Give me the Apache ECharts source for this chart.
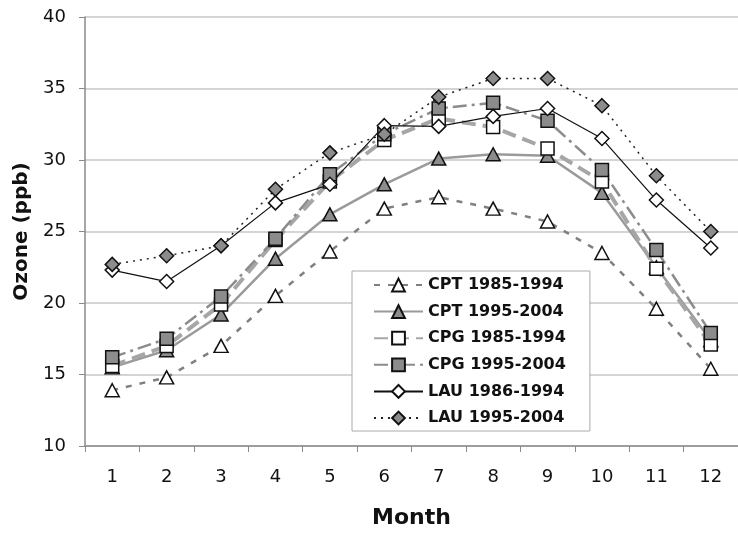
<!DOCTYPE html>
<html>
<head>
<meta charset="utf-8">
<script src="https://cdn.jsdelivr.net/npm/echarts@6/dist/echarts.min.js"></script>
<style>
  html, body { margin: 0; padding: 0; background: #fff; }
  #chart { width: 738px; height: 534px; }
</style>
</head>
<body>
<div id="chart"></div>
<script>
// Monthly mean ozone (ppb) by site and period
const months = ['1', '2', '3', '4', '5', '6', '7', '8', '9', '10', '11', '12'];

const cpt8594 = [13.9, 14.8, 17.0, 20.5, 23.6, 26.6, 27.4, 26.6, 25.7, 23.5, 19.6, 15.4];
const cpt9504 = [15.5, 16.7, 19.2, 23.1, 26.2, 28.3, 30.1, 30.4, 30.3, 27.7, 22.5, 17.4];
const cpg8594 = [15.6, 17.0, 19.9, 24.4, 28.5, 31.4, 32.9, 32.3, 30.8, 28.5, 22.4, 17.1];
const cpg9504 = [16.2, 17.5, 20.45, 24.5, 29.0, 31.8, 33.6, 34.0, 32.75, 29.3, 23.7, 17.9];
const lau8694 = [22.3, 21.5, 24.0, 27.0, 28.3, 32.4, 32.35, 33.05, 33.6, 31.5, 27.2, 23.85];
const lau9504 = [22.7, 23.3, 24.0, 27.95, 30.5, 31.8, 34.4, 35.7, 35.7, 33.8, 28.9, 25.0];

const seriesNames = ['CPT 1985-1994', 'CPT 1995-2004', 'CPG 1985-1994', 'CPG 1995-2004', 'LAU 1986-1994', 'LAU 1995-2004'];

const FONT = 'DejaVu Sans';
const OPEN = '#ffffff';
const FILLED = '#8c8c8c';

function lineSeries(name, data, line, symbol, size, fill) {
  return {
    name: name,
    type: 'line',
    data: data,
    symbol: symbol,
    symbolSize: size,
    showAllSymbol: true,
    smooth: false,
    lineStyle: line,
    itemStyle: { color: fill, borderColor: '#111', borderWidth: 1.5 },
    emphasis: { disabled: true },
    animation: false
  };
}

const chart = echarts.init(document.getElementById('chart'), null, { renderer: 'canvas' });

chart.setOption({
  backgroundColor: '#ffffff',
  animation: false,
  grid: { left: 85, right: -7, top: 17, bottom: 88, containLabel: false },
  legend: {
    orient: 'vertical',
    left: 352,
    top: 271,
    data: seriesNames,
    backgroundColor: '#ffffff',
    borderColor: '#aaaaaa',
    borderWidth: 1,
    padding: [6, 24, 5, 21],
    itemWidth: 49,
    itemHeight: 16,
    itemGap: 10.6,
    textStyle: { fontFamily: FONT, fontWeight: 'bold', fontSize: 16, color: '#111', lineHeight: 16 }
  },
  xAxis: {
    type: 'category',
    data: months,
    boundaryGap: true,
    name: 'Month',
    nameLocation: 'middle',
    nameGap: 61,
    nameTextStyle: { fontFamily: FONT, fontWeight: 'bold', fontSize: 22, color: '#111' },
    axisLine: { lineStyle: { color: '#8a8a8a', width: 1.5 } },
    axisTick: { show: true, alignWithLabel: false, length: 6, lineStyle: { color: '#8a8a8a' } },
    axisLabel: { fontFamily: FONT, fontSize: 18, color: '#111', margin: 22 },
    splitLine: { show: false }
  },
  yAxis: {
    type: 'value',
    min: 10,
    max: 40,
    interval: 5,
    name: 'Ozone (ppb)',
    nameLocation: 'middle',
    nameRotate: 90,
    nameGap: 52,
    nameTextStyle: { fontFamily: FONT, fontWeight: 'bold', fontSize: 20, color: '#111' },
    axisLine: { show: true, lineStyle: { color: '#8a8a8a', width: 1.5 } },
    axisTick: { show: true, length: 6, lineStyle: { color: '#8a8a8a' } },
    axisLabel: { fontFamily: FONT, fontSize: 18, color: '#111', margin: 19 },
    splitLine: { show: true, lineStyle: { color: '#d4d4d4', width: 2 } }
  },
  series: [
    lineSeries(seriesNames[0], cpt8594, { color: '#808080', width: 2.5, type: [6, 8] }, 'triangle', [14, 13], OPEN),
    lineSeries(seriesNames[1], cpt9504, { color: '#9a9a9a', width: 2.5, type: 'solid' }, 'triangle', [14, 13], FILLED),
    lineSeries(seriesNames[2], cpg8594, { color: '#a6a6a6', width: 4, type: [14, 7] }, 'rect', [13, 13], OPEN),
    lineSeries(seriesNames[3], cpg9504, { color: '#8c8c8c', width: 2.5, type: [14, 5, 3, 5] }, 'rect', [13, 13], FILLED),
    lineSeries(seriesNames[4], lau8694, { color: '#111111', width: 1.2, type: 'solid' }, 'diamond', [14, 14], OPEN),
    lineSeries(seriesNames[5], lau9504, { color: '#222222', width: 1.5, type: [2, 5] }, 'diamond', [14, 14], FILLED)
  ]
});
</script>
</body>
</html>
